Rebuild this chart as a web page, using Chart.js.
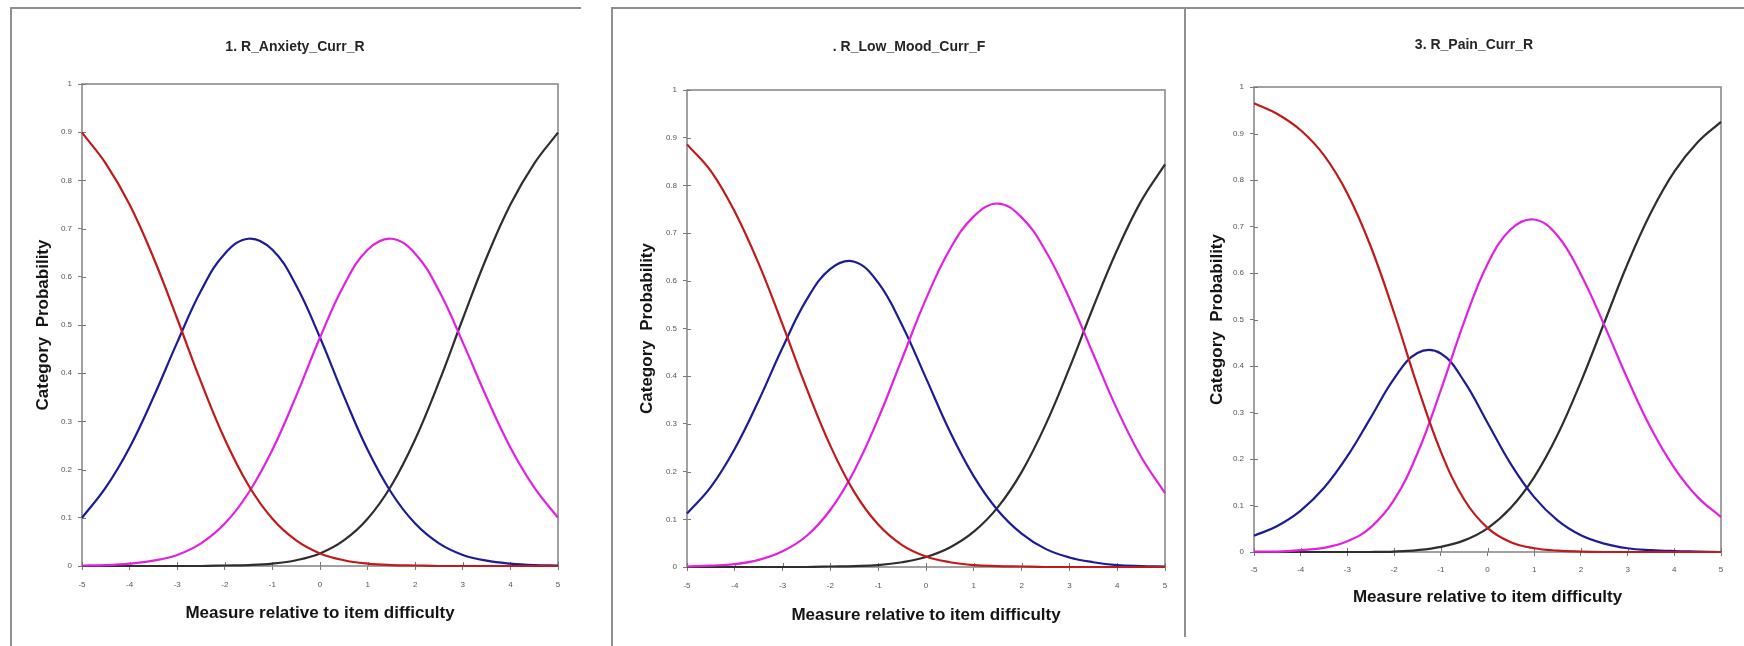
<!DOCTYPE html>
<html>
<head>
<meta charset="utf-8">
<script src="https://cdn.jsdelivr.net/npm/chart.js@4.4.1/dist/chart.umd.min.js"></script>
<style>
  html, body { margin: 0; padding: 0; background: #fff; }
  #page { position: relative; width: 1744px; height: 646px; overflow: hidden; background: #fff; }
  canvas { position: absolute; top: 0; }
  .frame { position: absolute; box-sizing: border-box; }
</style>
</head>
<body>
<div id="page">
  <div class="frame" style="left:10px; top:7px; width:571px; height:660px; border-top:2px solid #8f8f8f; border-left:2px solid #8f8f8f;"></div>
  <div class="frame" style="left:611px; top:7px; width:1140px; height:660px; border-top:2px solid #8f8f8f; border-left:2px solid #8f8f8f;"></div>
  <div class="frame" style="left:1184px; top:7px; width:2px; height:630px; background:#8f8f8f;"></div>
  <canvas id="c1" width="600" height="646" style="left:0px"></canvas>
  <canvas id="c2" width="585" height="646" style="left:600px"></canvas>
  <canvas id="c3" width="559" height="646" style="left:1185px"></canvas>
</div>
<script>
// ---- shared axis values ----
const xValues = [-5, -4.5, -4, -3.5, -3, -2.5, -2, -1.5, -1, -0.5, 0, 0.5, 1, 1.5, 2, 2.5, 3, 3.5, 4, 4.5, 5];
const xTickLabels = ['-5', '-4', '-3', '-2', '-1', '0', '1', '2', '3', '4', '5'];
const yTickLabels = ['0', '0.1', '0.2', '0.3', '0.4', '0.5', '0.6', '0.7', '0.8', '0.9', '1'];
const xAxisTitle = 'Measure relative to item difficulty';
const yAxisTitle = 'Category  Probability';

// ---- panel 1: 1. R_Anxiety_Curr_R ----
const anxietyTitle = '1. R_Anxiety_Curr_R';
const anxietyCat0 = [0.899, 0.835, 0.750, 0.640, 0.513, 0.382, 0.263, 0.167, 0.098, 0.053, 0.026, 0.012, 0.005, 0.002, 0.001, 0, 0, 0, 0, 0, 0];
const anxietyCat1 = [0.100, 0.163, 0.246, 0.350, 0.464, 0.571, 0.648, 0.679, 0.656, 0.582, 0.474, 0.353, 0.241, 0.152, 0.088, 0.047, 0.023, 0.011, 0.005, 0.002, 0.001];
const anxietyCat2 = [0.001, 0.002, 0.005, 0.011, 0.023, 0.047, 0.088, 0.152, 0.241, 0.353, 0.474, 0.582, 0.656, 0.679, 0.648, 0.571, 0.464, 0.350, 0.246, 0.163, 0.100];
const anxietyCat3 = [0, 0, 0, 0, 0, 0, 0.001, 0.002, 0.005, 0.012, 0.026, 0.053, 0.098, 0.167, 0.263, 0.382, 0.513, 0.640, 0.750, 0.835, 0.899];

// ---- panel 2: . R_Low_Mood_Curr_F ----
const moodTitle = '. R_Low_Mood_Curr_F';
const moodCat0 = [0.886, 0.830, 0.745, 0.636, 0.508, 0.375, 0.254, 0.157, 0.089, 0.046, 0.022, 0.010, 0.004, 0.002, 0.001, 0, 0, 0, 0, 0, 0];
const moodCat1 = [0.112, 0.168, 0.248, 0.349, 0.460, 0.560, 0.625, 0.640, 0.596, 0.507, 0.396, 0.284, 0.190, 0.119, 0.070, 0.038, 0.020, 0.010, 0.004, 0.002, 0.001];
const moodCat2 = [0.001, 0.003, 0.006, 0.015, 0.033, 0.065, 0.120, 0.202, 0.311, 0.437, 0.562, 0.666, 0.735, 0.762, 0.733, 0.663, 0.563, 0.446, 0.330, 0.231, 0.155];
const moodCat3 = [0, 0, 0, 0, 0, 0, 0.001, 0.002, 0.004, 0.010, 0.021, 0.041, 0.074, 0.125, 0.199, 0.298, 0.417, 0.545, 0.665, 0.767, 0.844];

// ---- panel 3: 3. R_Pain_Curr_R ----
const painTitle = '3. R_Pain_Curr_R';
const painCat0 = [0.965, 0.942, 0.907, 0.853, 0.771, 0.657, 0.514, 0.357, 0.216, 0.113, 0.052, 0.021, 0.008, 0.003, 0.001, 0, 0, 0, 0, 0, 0];
const painCat1 = [0.035, 0.056, 0.089, 0.138, 0.206, 0.289, 0.373, 0.428, 0.427, 0.367, 0.278, 0.189, 0.118, 0.068, 0.036, 0.018, 0.008, 0.004, 0.002, 0.001, 0];
const painCat2 = [0.001, 0.001, 0.004, 0.009, 0.023, 0.053, 0.112, 0.212, 0.348, 0.495, 0.619, 0.694, 0.715, 0.680, 0.597, 0.488, 0.372, 0.266, 0.181, 0.118, 0.075];
const painCat3 = [0, 0, 0, 0, 0, 0, 0.001, 0.004, 0.011, 0.025, 0.051, 0.095, 0.161, 0.252, 0.366, 0.493, 0.620, 0.730, 0.818, 0.881, 0.925];

// ---- styles ----
const COLORS = { cat0: '#c01a1a', cat1: '#1c1c96', cat2: '#e022e0', cat3: '#2e2e2e' };
const FONT = "'Liberation Sans', Arial, sans-serif";

// plot frame + crossing tick marks, drawn through the chart's scales
const framePlugin = {
  id: 'plotFrame',
  beforeDatasetsDraw(chart) {
    const { ctx, chartArea: a, scales } = chart;
    ctx.save();
    ctx.strokeStyle = '#8a8a8a';
    ctx.lineWidth = 1.6;
    ctx.strokeRect(a.left, a.top, a.right - a.left, a.bottom - a.top);
    ctx.strokeStyle = '#777';
    ctx.lineWidth = 1;
    ctx.beginPath();
    scales.x.ticks.forEach(t => {
      const px = Math.round(scales.x.getPixelForValue(t.value)) + 0.5;
      ctx.moveTo(px, a.bottom);
      ctx.lineTo(px, a.bottom - 4);
    });
    scales.y.ticks.forEach(t => {
      const py = Math.round(scales.y.getPixelForValue(t.value)) + 0.5;
      ctx.moveTo(a.left, py);
      ctx.lineTo(a.left + 4, py);
    });
    ctx.stroke();
    ctx.restore();
  }
};

const titlePlugin = {
  id: 'panelTitle',
  afterDraw(chart, args, opts) {
    const { ctx } = chart;
    ctx.save();
    ctx.font = 'bold 14px ' + FONT;
    ctx.fillStyle = '#262626';
    ctx.textAlign = 'center';
    ctx.textBaseline = 'middle';
    ctx.fillText(opts.text, opts.x, opts.y);
    ctx.restore();
  }
};

function series(values, color, order) {
  return {
    data: xValues.map((x, i) => ({ x: x, y: values[i] })),
    borderColor: color,
    borderWidth: 2.2,
    pointRadius: 0,
    tension: 0.4,
    fill: false,
    order: order,
    clip: 5
  };
}

function makePanel(id, title, cats, geo) {
  new Chart(document.getElementById(id), {
    type: 'line',
    data: {
      datasets: [
        series(cats[0], COLORS.cat0, 0),
        series(cats[2], COLORS.cat2, 1),
        series(cats[1], COLORS.cat1, 2),
        series(cats[3], COLORS.cat3, 3)
      ]
    },
    options: {
      responsive: false,
      animation: false,
      devicePixelRatio: 1,
      layout: { padding: geo.padding },
      plugins: {
        legend: { display: false },
        tooltip: { enabled: false },
        title: { display: false },
        panelTitle: { text: title, x: geo.titleX, y: geo.titleY }
      },
      scales: {
        x: {
          type: 'linear',
          min: -5, max: 5,
          border: { display: false },
          grid: { display: true, drawOnChartArea: false, drawTicks: true, tickLength: 4, color: '#777', lineWidth: 1 },
          ticks: {
            stepSize: 1,
            padding: geo.xPad,
            color: '#555',
            font: { family: FONT, size: 8 },
            maxRotation: 0,
            callback: (v) => xTickLabels[Math.round(v) + 5]
          },
          title: {
            display: true,
            text: xAxisTitle,
            color: '#141414',
            padding: 0,
            font: { family: FONT, size: 17, weight: 'bold', lineHeight: 1.2 }
          },
          afterFit: (s) => { s.height = geo.xH; }
        },
        y: {
          type: 'linear',
          min: 0, max: 1,
          border: { display: false },
          grid: { display: true, drawOnChartArea: false, drawTicks: true, tickLength: 4, color: '#777', lineWidth: 1 },
          ticks: {
            stepSize: 0.1,
            padding: 6,
            color: '#555',
            font: { family: FONT, size: 8 },
            callback: (v) => yTickLabels[Math.round(v * 10)]
          },
          title: {
            display: true,
            text: yAxisTitle,
            color: '#141414',
            padding: 0,
            font: { family: FONT, size: 17, weight: 'bold', lineHeight: 1.2 }
          },
          afterFit: (s) => { s.width = geo.yW; }
        }
      }
    },
    plugins: [framePlugin, titlePlugin]
  });
}

// panel 1: plot 82..558 x 84..566
makePanel('c1', anxietyTitle, [anxietyCat0, anxietyCat1, anxietyCat2, anxietyCat3], {
  padding: { left: 32.8, right: 42, top: 84, bottom: 22.8 },
  yW: 49.2, xH: 57.2, xPad: 10, titleX: 295, titleY: 47
});
// panel 2: plot 687..1165 x 90..567 (canvas offset 600)
makePanel('c2', moodTitle, [moodCat0, moodCat1, moodCat2, moodCat3], {
  padding: { left: 36.8, right: 20, top: 90, bottom: 20.8 },
  yW: 50.2, xH: 58.2, xPad: 10, titleX: 309, titleY: 47
});
// panel 3: plot 1254..1721 x 87..552 (canvas offset 1185)
makePanel('c3', painTitle, [painCat0, painCat1, painCat2, painCat3], {
  padding: { left: 21.8, right: 23, top: 87, bottom: 38.8 },
  yW: 47.2, xH: 55.2, xPad: 9, titleX: 289, titleY: 45
});
</script>
</body>
</html>
